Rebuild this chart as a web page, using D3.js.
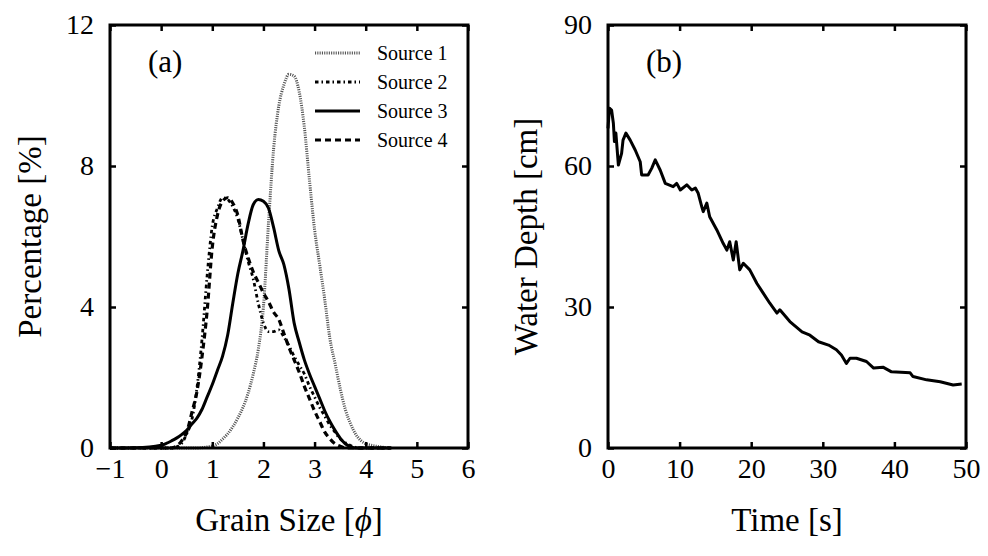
<!DOCTYPE html>
<html>
<head>
<meta charset="utf-8">
<script src="https://cdn.jsdelivr.net/npm/d3@7"></script>
<style>
  body { margin: 0; background: #fff; }
  svg { display: block; font-family: "Liberation Serif", "Times New Roman", "DejaVu Serif", serif; }
</style>
</head>
<body>
<svg id="chart" width="988" height="556"></svg>
<script>
// ---- panel (a): grain size distributions ----
const grainSize = [-1, -0.5,
  0, 0.1, 0.2, 0.3, 0.4, 0.5, 0.6, 0.7, 0.8, 0.9,
  1.0, 1.1, 1.2, 1.3, 1.4, 1.5, 1.6, 1.7, 1.8, 1.9,
  2.0, 2.1, 2.2, 2.3, 2.4, 2.5, 2.6, 2.7, 2.8, 2.9,
  3.0, 3.1, 3.2, 3.3, 3.4, 3.5, 3.6, 3.7, 3.8, 3.9,
  4.0, 4.1, 4.2, 4.3, 4.4, 4.5];
const source1 = [0, 0,
  0, 0, 0, 0, 0, 0, 0, 0, 0.01, 0.03,
  0.06, 0.12, 0.25, 0.4, 0.6, 0.85, 1.15, 1.55, 2.1, 2.8,
  4.0, 6.4, 8.5, 9.7, 10.3, 10.6, 10.55, 10.1, 9.1, 7.6,
  6.2, 5.2, 4.2, 3.1, 2.4, 1.7, 1.1, 0.7, 0.4, 0.22,
  0.12, 0.08, 0.05, 0.03, 0.01, 0];
const source2 = [0, 0,
  0, 0, 0, 0.03, 0.13, 0.4, 0.8, 1.7, 3.1, 4.9,
  6.3, 6.8, 7.1, 7.05, 6.85, 6.5, 5.9, 5.3, 4.8, 4.1,
  3.55, 3.3, 3.3, 3.35, 3.15, 2.9, 2.6, 2.35, 2.1, 1.75,
  1.45, 1.15, 0.9, 0.65, 0.45, 0.26, 0.15, 0.07, 0.02, 0,
  0, 0, 0, 0, 0, 0];
const source3 = [0, 0.01,
  0.08, 0.13, 0.2, 0.28, 0.38, 0.5, 0.68, 0.85, 1.1, 1.45,
  1.8, 2.2, 2.6, 3.2, 4.1, 4.95, 5.6, 6.35, 6.9, 7.05,
  7.0, 6.8, 6.25, 5.6, 5.2, 4.5, 3.55, 3.0, 2.5, 2.1,
  1.75, 1.4, 1.05, 0.75, 0.5, 0.28, 0.12, 0.04, 0, 0,
  0, 0, 0, 0, 0, 0];
const source4 = [0, 0,
  0, 0, 0, 0.05, 0.2, 0.45, 1.0, 1.6, 2.6, 3.9,
  5.7, 6.6, 7.0, 7.1, 6.95, 6.6, 5.9, 5.4, 5.0, 4.7,
  4.4, 4.15, 3.85, 3.65, 3.25, 2.85, 2.5, 2.15, 1.75, 1.4,
  1.05, 0.75, 0.45, 0.26, 0.12, 0.05, 0, 0, 0, 0,
  0, 0, 0, 0, 0, 0];
const sourceNames = ['Source 1', 'Source 2', 'Source 3', 'Source 4'];
const grainTicks = [-1, 0, 1, 2, 3, 4, 5, 6];
const pctTicks = [0, 4, 8, 12];

// ---- panel (b): water depth record ----
const time = [0, 0.2, 0.5, 0.75, 0.9, 1.1, 1.45, 1.9, 2.1, 2.5, 3.1, 3.8, 4.5, 4.7, 5.6, 6.1,
  6.6, 7.3, 8.0, 9.1, 9.6, 10.1, 11.0, 11.7, 12.2, 12.6, 13.1, 13.3, 13.8, 14.2, 15.2,
  16.1, 16.6, 17.0, 17.5, 17.9, 18.4, 18.9, 19.8, 20.8, 21.7, 22.6, 23.6, 24.0, 25.4,
  27.1, 28.2, 29.4, 30.8, 31.9, 32.6, 33.3, 33.8, 34.7, 36.1, 37.1, 38.4, 39.6, 42.2,
  42.6, 44.5, 46.4, 48.2, 49.4];
const depth = [68, 72.3, 71.9, 69.1, 65.2, 67, 60.2, 62.7, 65.5, 67, 65.5, 63.4, 60.9, 58.1, 58.1, 59.5,
  61.3, 59.1, 56.3, 55.6, 56.3, 54.9, 56, 54.9, 55.3, 54.2, 51.3, 50.3, 52.1, 49.2, 46.4,
  43.5, 42.1, 43.9, 40, 43.9, 37.9, 39.3, 37.9, 35, 32.9, 30.8, 28.7, 29.4, 26.9,
  24.7, 24.0, 22.6, 21.9, 20.9, 19.8, 18.0, 19.1, 19.1, 18.4, 17.0, 17.2, 16.2, 16.0,
  15.2, 14.5, 14.1, 13.4, 13.6];
const timeTicks = [0, 10, 20, 30, 40, 50];
const depthTicks = [0, 30, 60, 90];

const svg = d3.select('#chart');
const plotTop = 25, plotBottom = 448;

// line styles per source
const styles = [
  { stroke: '#555', width: 3, dash: '1.1,1.2' },
  { stroke: '#000', width: 2.8, dash: '3.5,3,1.5,3' },
  { stroke: '#000', width: 3, dash: null },
  { stroke: '#000', width: 3.2, dash: '6,4' },
];

function drawFrame(g, x, y, xTicks, yTicks, W, H) {
  const tk = 6;
  g.append('g').attr('transform', `translate(0,${H})`)
    .call(d3.axisBottom(x).tickValues(xTicks).tickSize(-tk).tickPadding(10)
      .tickFormat(d => d < 0 ? '\u2212' + Math.abs(d) : d));
  g.append('g')
    .call(d3.axisTop(x).tickValues(xTicks).tickSize(-tk).tickFormat(''));
  g.append('g')
    .call(d3.axisLeft(y).tickValues(yTicks).tickSize(-tk).tickPadding(16));
  g.append('g').attr('transform', `translate(${W},0)`)
    .call(d3.axisRight(y).tickValues(yTicks).tickSize(-tk).tickFormat(''));
  g.selectAll('.domain').remove();
  g.selectAll('.tick line').attr('stroke', '#000').attr('stroke-width', 2.5);
  g.selectAll('.tick text').attr('font-size', 28).attr('fill', '#000')
    .attr('font-family', '"Liberation Serif", "Times New Roman", serif');
  g.append('rect').attr('width', W).attr('height', H)
    .attr('fill', 'none').attr('stroke', '#000').attr('stroke-width', 3);
}

// ---------- panel (a) ----------
{
  const left = 110, right = 468;
  const W = right - left, H = plotBottom - plotTop;
  const g = svg.append('g').attr('transform', `translate(${left},${plotTop})`);
  const x = d3.scaleLinear().domain([-1, 6]).range([0, W]);
  const y = d3.scaleLinear().domain([0, 12]).range([H, 0]);

  const line = d3.line().x(d => x(d[0])).y(d => y(d[1])).curve(d3.curveMonotoneX);
  [source1, source2, source3, source4].forEach((s, i) => {
    const st = styles[i];
    g.append('path')
      .datum(grainSize.map((gs, j) => [gs, s[j]]))
      .attr('d', line)
      .attr('fill', 'none')
      .attr('stroke', st.stroke)
      .attr('stroke-width', st.width)
      .attr('stroke-dasharray', st.dash)
      .attr('stroke-linejoin', 'round');
  });

  drawFrame(g, x, y, grainTicks, pctTicks, W, H);

  // legend
  const lg = g.append('g').attr('transform', `translate(${315 - left},${53 - plotTop})`);
  sourceNames.forEach((name, i) => {
    const st = styles[i];
    const row = lg.append('g').attr('transform', `translate(0,${i * 29})`);
    row.append('line').attr('x1', 0).attr('x2', 45).attr('y1', 0).attr('y2', 0)
      .attr('stroke', st.stroke).attr('stroke-width', st.width)
      .attr('stroke-dasharray', st.dash);
    row.append('text').attr('x', 62).attr('y', 7).attr('font-size', 20).text(name);
  });

  g.append('text').attr('x', 38).attr('y', 72 - plotTop).attr('font-size', 31).text('(a)');

  // axis titles
  svg.append('text').attr('x', (left + right) / 2).attr('y', 531)
    .attr('text-anchor', 'middle').attr('font-size', 33)
    .call(t => {
      t.append('tspan').text('Grain Size [');
      t.append('tspan').attr('font-style', 'italic').text('\u03D5');
      t.append('tspan').text(']');
    });
  svg.append('text')
    .attr('transform', `translate(41,${(plotTop + plotBottom) / 2}) rotate(-90)`)
    .attr('text-anchor', 'middle').attr('font-size', 33).text('Percentage [%]');
}

// ---------- panel (b) ----------
{
  const left = 608, right = 966;
  const W = right - left, H = plotBottom - plotTop;
  const g = svg.append('g').attr('transform', `translate(${left},${plotTop})`);
  const x = d3.scaleLinear().domain([0, 50]).range([0, W]);
  const y = d3.scaleLinear().domain([0, 90]).range([H, 0]);

  g.append('path')
    .datum(time.map((t, i) => [t, depth[i]]))
    .attr('d', d3.line().x(d => x(d[0])).y(d => y(d[1])))
    .attr('fill', 'none').attr('stroke', '#000').attr('stroke-width', 3)
    .attr('stroke-linejoin', 'round');

  drawFrame(g, x, y, timeTicks, depthTicks, W, H);

  g.append('text').attr('x', 38).attr('y', 72 - plotTop).attr('font-size', 31).text('(b)');

  svg.append('text').attr('x', (left + right) / 2).attr('y', 531)
    .attr('text-anchor', 'middle').attr('font-size', 33).text('Time [s]');
  svg.append('text')
    .attr('transform', `translate(537,${(plotTop + plotBottom) / 2}) rotate(-90)`)
    .attr('text-anchor', 'middle').attr('font-size', 33).text('Water Depth [cm]');
}
</script>
</body>
</html>
